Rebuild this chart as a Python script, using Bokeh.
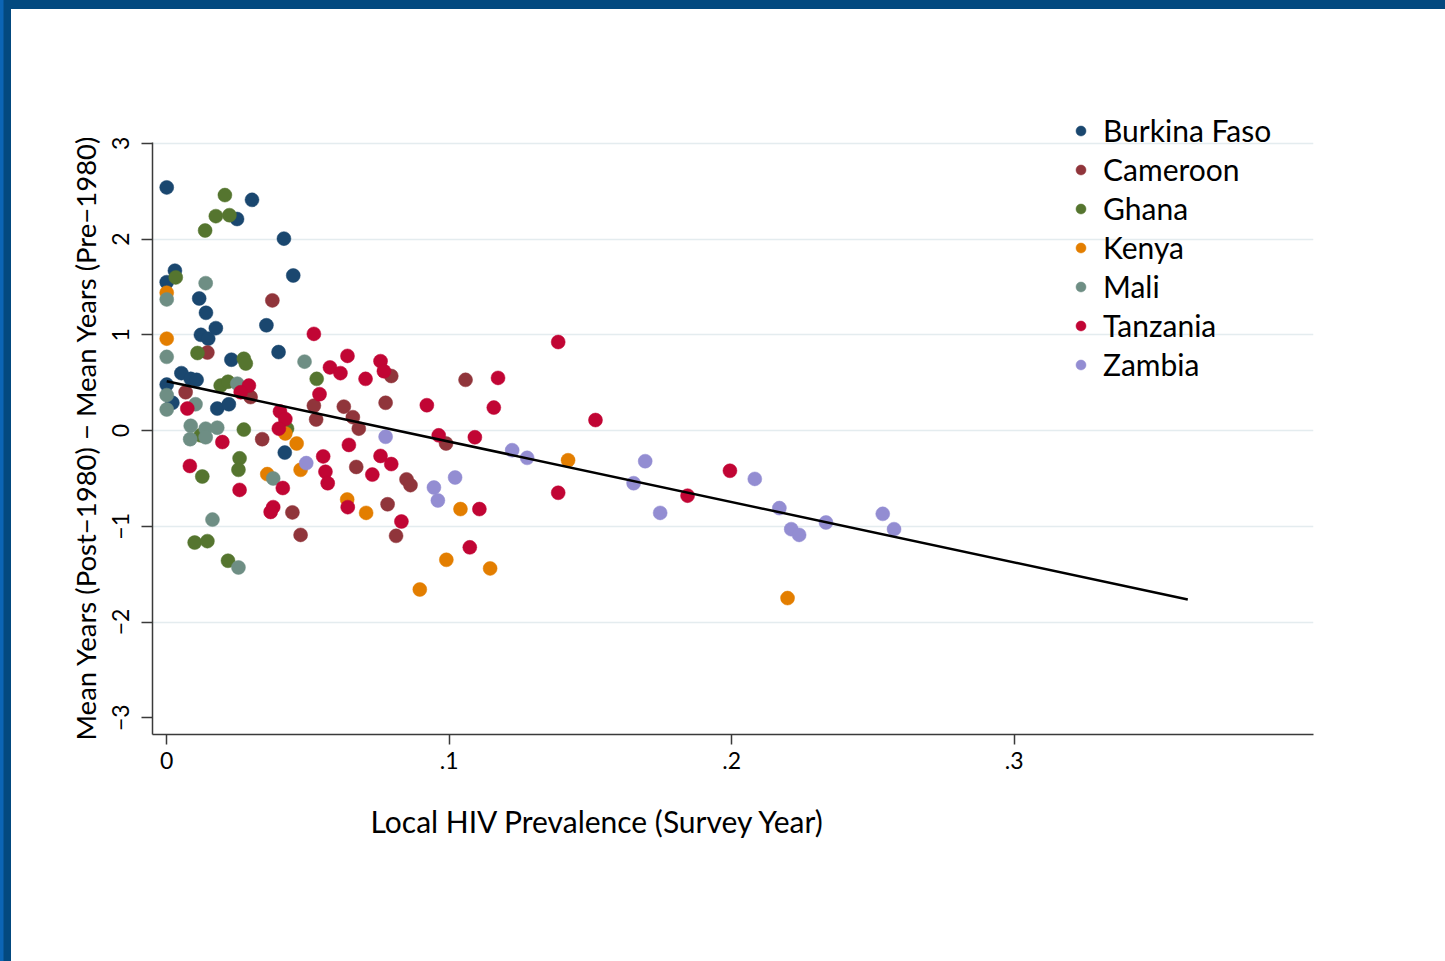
from bokeh.plotting import figure
from bokeh.models import Range1d, FixedTicker, Title, Legend, LegendItem, Div
from bokeh.layouts import column, row
from bokeh.embed import file_html
from bokeh.resources import INLINE

# ---- data ----
countries = ["Burkina Faso", "Cameroon", "Ghana", "Kenya", "Mali", "Tanzania", "Zambia"]
colors = ["#1a476f", "#90353b", "#55752f", "#e37e00", "#6e8e84", "#c10534", "#938dd2"]

burkina_x = [0.000, 0.0302, 0.0249, 0.0415, 0.0448, 0.0029, 0.000, 0.0115, 0.0139, 0.0174, 0.0353, 0.0121,
             0.0147, 0.0229, 0.0396, 0.0052, 0.0085, 0.0106, 0.000, 0.002, 0.0179, 0.022, 0.0418]
burkina_y = [2.54, 2.41, 2.21, 2.005, 1.62, 1.67, 1.55, 1.38, 1.23, 1.07, 1.10, 1.00,
             0.96, 0.74, 0.82, 0.60, 0.54, 0.53, 0.48, 0.29, 0.23, 0.275, -0.23]

cameroon_x = [0.0374, 0.0144, 0.0067, 0.0297, 0.0521, 0.0529, 0.0338, 0.0795, 0.0627, 0.0775, 0.0659,
              0.068, 0.0671, 0.1058, 0.0989, 0.0849, 0.0863, 0.0782, 0.0812, 0.0445, 0.0474]
cameroon_y = [1.36, 0.815, 0.40, 0.35, 0.26, 0.115, -0.09, 0.57, 0.25, 0.29, 0.14,
              0.02, -0.38, 0.53, -0.135, -0.51, -0.57, -0.77, -1.10, -0.855, -1.09]

ghana_x = [0.0206, 0.0174, 0.0222, 0.0136, 0.0032, 0.0109, 0.0273, 0.028, 0.0531, 0.0191, 0.0217,
           0.012, 0.0273, 0.0426, 0.0126, 0.0258, 0.0254, 0.0099, 0.0144, 0.0217]
ghana_y = [2.46, 2.24, 2.25, 2.09, 1.60, 0.81, 0.75, 0.70, 0.54, 0.47, 0.51,
           -0.05, 0.01, 0.02, -0.48, -0.29, -0.41, -1.17, -1.155, -1.36]

kenya_x = [0.0, 0.0, 0.042, 0.046, 0.0474, 0.0356, 0.0639, 0.0706, 0.104, 0.099, 0.1145, 0.0896, 0.1421, 0.2198]
kenya_y = [1.44, 0.96, -0.03, -0.135, -0.41, -0.455, -0.72, -0.86, -0.82, -1.35, -1.44, -1.66, -0.31, -1.75]

mali_x = [0.0138, 0.0, 0.0, 0.0488, 0.0, 0.0, 0.0102, 0.025, 0.0085, 0.0083, 0.0138, 0.0138, 0.0179,
          0.0377, 0.0162, 0.0254]
mali_y = [1.54, 1.37, 0.77, 0.72, 0.37, 0.22, 0.275, 0.49, 0.05, -0.09, 0.02, -0.07, 0.03,
          -0.50, -0.93, -1.43]

tanzania_x = [0.0521, 0.0578, 0.0615, 0.064, 0.0704, 0.0757, 0.0769, 0.0541, 0.0073, 0.0291, 0.0262,
              0.0401, 0.042, 0.0397, 0.0197, 0.0554, 0.0562, 0.057, 0.0082, 0.0411, 0.0258, 0.0377,
              0.0368, 0.0921, 0.0645, 0.0757, 0.0795, 0.0728, 0.0641, 0.0831, 0.1173, 0.1158, 0.1386,
              0.1518, 0.0963, 0.1091, 0.1107, 0.1073, 0.1386, 0.1844, 0.1994]
tanzania_y = [1.01, 0.66, 0.60, 0.78, 0.54, 0.725, 0.62, 0.38, 0.23, 0.47, 0.40,
              0.20, 0.12, 0.02, -0.12, -0.27, -0.43, -0.55, -0.37, -0.60, -0.62, -0.80,
              -0.85, 0.265, -0.15, -0.265, -0.35, -0.46, -0.80, -0.95, 0.55, 0.24, 0.925,
              0.11, -0.05, -0.07, -0.82, -1.22, -0.65, -0.68, -0.42]

zambia_x = [0.0494, 0.0775, 0.1021, 0.0946, 0.096, 0.1223, 0.1276, 0.1694, 0.1653, 0.1747, 0.2082,
            0.2169, 0.2211, 0.2239, 0.2334, 0.2535, 0.2575]
zambia_y = [-0.34, -0.065, -0.49, -0.595, -0.73, -0.205, -0.285, -0.32, -0.55, -0.86, -0.505,
            -0.81, -1.03, -1.09, -0.96, -0.87, -1.03]

fit_x = [0.0, 0.3615]
fit_y = [0.515, -1.765]

x_ticks = [0, 0.1, 0.2, 0.3]
x_tick_labels = ["0", ".1", ".2", ".3"]
y_ticks = [-3, -2, -1, 0, 1, 2, 3]
y_tick_labels = ["\u22123", "\u22122", "\u22121", "0", "1", "2", "3"]
y_grid = [-2, -1, 0, 1, 2, 3]

x_title = "Local HIV Prevalence (Survey Year)"
y_title = "Mean Years (Post\u22121980) \u2212 Mean Years (Pre\u22121980)"

series_x = [burkina_x, cameroon_x, ghana_x, kenya_x, mali_x, tanzania_x, zambia_x]
series_y = [burkina_y, cameroon_y, ghana_y, kenya_y, mali_y, tanzania_y, zambia_y]

FONT = "Lato"

p = figure(width=1434, height=952, output_backend="svg", toolbar_location=None,
           x_range=Range1d(-0.00503, 0.406), y_range=Range1d(-3.175, 3.448),
           min_border_left=141, min_border_right=132, min_border_top=91, min_border_bottom=227,
           background_fill_color="white", border_fill_color="white", outline_line_color=None)

# grid
p.xgrid.visible = False
p.ygrid.ticker = FixedTicker(ticks=y_grid)
p.ygrid.grid_line_color = "#e4ecef"
p.ygrid.grid_line_width = 1.5

# axes
for ax in (p.xaxis[0], p.yaxis[0]):
    ax.axis_line_color = "#3a3a3a"
    ax.axis_line_width = 1.5
    ax.major_tick_line_color = "#3a3a3a"
    ax.major_tick_line_width = 1.5
    ax.major_tick_in = 0
    ax.minor_tick_line_color = None
    ax.major_label_text_font = FONT
    ax.major_label_text_font_size = "23px"
    ax.major_label_text_color = "black"

p.xaxis.ticker = FixedTicker(ticks=x_ticks)
p.xaxis.major_label_overrides = {t: l for t, l in zip(x_ticks, x_tick_labels)}
p.xaxis.major_tick_out = 10
p.xaxis.major_label_standoff = 7

p.yaxis.ticker = FixedTicker(ticks=y_ticks)
p.yaxis.bounds = (-3.175, 3.01)
p.yaxis.major_label_overrides = {t: l for t, l in zip(y_ticks, y_tick_labels)}
p.yaxis.major_tick_out = 11
p.yaxis.major_label_orientation = "vertical"
p.yaxis.major_label_standoff = 12

# points
renderers = []
for name, xs, ys, c in zip(countries, series_x, series_y, colors):
    r = p.scatter(xs, ys, size=14, marker="circle", fill_color=c, line_color=c, line_width=0.5)
    renderers.append(r)

p.line(fit_x, fit_y, line_color="black", line_width=2.5)

legend = Legend(items=[LegendItem(label=n, renderers=[r]) for n, r in zip(countries, renderers)],
                location=(916, 351), orientation="vertical",
                glyph_width=25, glyph_height=25, label_standoff=10, label_height=38, spacing=1,
                padding=0, margin=0, border_line_color=None, background_fill_alpha=0,
                label_text_font=FONT, label_text_font_size="30px", label_text_color="black")
p.add_layout(legend, "center")

yt = Title(text=y_title, align="left", offset=-6, text_font=FONT, text_font_size="27.5px",
           text_font_style="normal", text_color="black", standoff=16)
p.add_layout(yt, "left")

t = Title(text=x_title, align="left", offset=218, text_font=FONT, text_font_size="30px",
          text_font_style="normal", text_color="black", standoff=58)
p.add_layout(t, "below")

band = "linear-gradient(to right, #0c65b5 0px, #0c65b5 3px, #03497f 4px, #03497f 100%)"
top_bar = Div(text="", width=1445, height=9, margin=0, styles={"background": band})
left_bar = Div(text="", width=11, height=952, margin=0, styles={"background": band})

page = column(top_bar, row(left_bar, p, spacing=0), spacing=0)

open("out.html", "w").write(file_html(page, INLINE))
